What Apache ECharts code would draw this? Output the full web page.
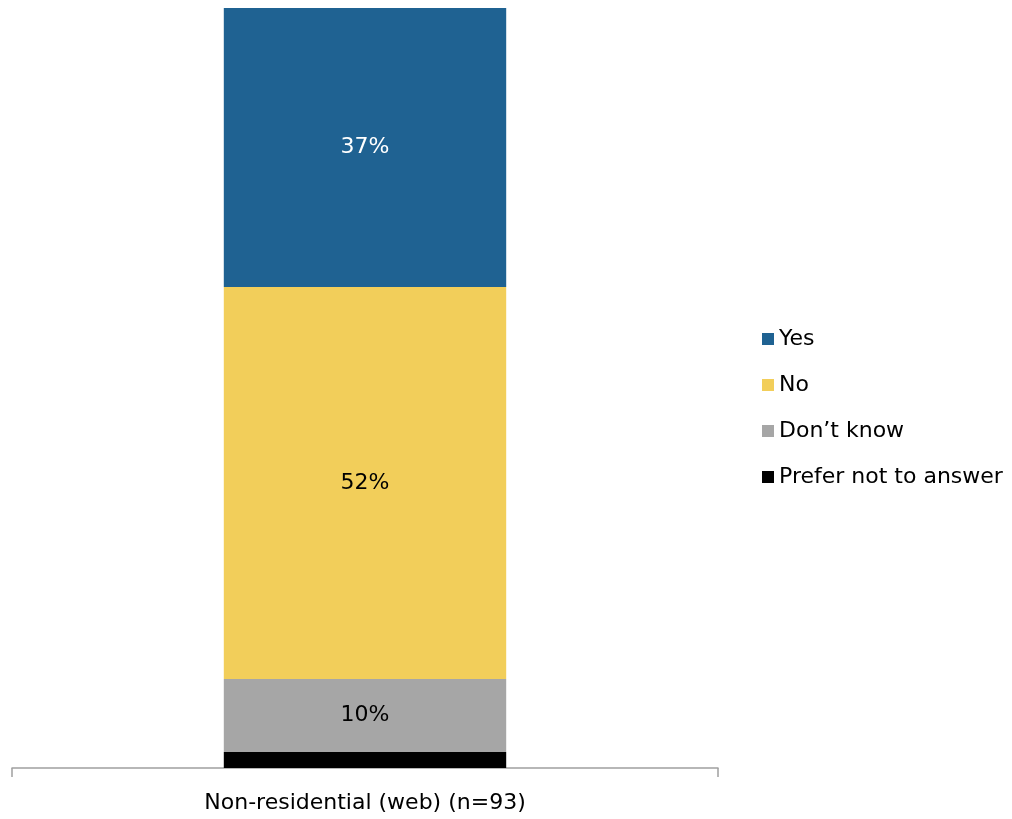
<!DOCTYPE html>
<html><head><meta charset="utf-8">
<script src="https://cdn.jsdelivr.net/npm/echarts@6/dist/echarts.min.js"></script>
<style>html,body{margin:0;padding:0;background:#fff}#c{width:1012px;height:819px}</style>
</head><body><div id="c"></div>
<script>
const categories = ['Non-residential (web) (n=93)'];
const seriesNames = ['Yes', 'No', 'Don\u2019t know', 'Prefer not to answer'];
const yesValues = [36.7];
const noValues = [51.6];
const dkValues = [9.6];
const pnaValues = [2.1];
const showLabel = [true, true, true, false];
const colors = ['#1f6292', '#f2ce5a', '#a6a6a6', '#000000'];
const labelColors = ['#ffffff', '#000000', '#000000', '#ffffff'];
const allValues = [yesValues, noValues, dkValues, pnaValues];
const FONT = 'DejaVu Sans, sans-serif';

// stack from bottom: Prefer not to answer, Don't know, No, Yes
const stackOrder = [3, 2, 1, 0];

const chart = echarts.init(document.getElementById('c'));
chart.setOption({
  animation: false,
  grid: { left: 12, right: 294, top: 8, bottom: 51 },
  legend: {
    orient: 'vertical', left: 757, top: 323,
    itemWidth: 12, itemHeight: 12, itemGap: 24,
    icon: 'rect',
    textStyle: { fontFamily: FONT, fontSize: 22, color: '#000' },
    data: seriesNames
  },
  xAxis: {
    type: 'category', data: categories,
    axisLine: { lineStyle: { color: '#a0a0a0', width: 1.5 } },
    axisTick: { show: true, length: 9, lineStyle: { color: '#a0a0a0', width: 1.5 } },
    axisLabel: { fontFamily: FONT, fontSize: 22, color: '#000', margin: 24 }
  },
  yAxis: { type: 'value', min: 0, max: 100, show: false, splitLine: { show: false } },
  series: stackOrder.map(i => ({
    name: seriesNames[i], type: 'bar', stack: 'total', barWidth: '40%',
    data: allValues[i],
    itemStyle: { color: colors[i] },
    label: {
      show: showLabel[i], position: 'inside',
      formatter: p => Math.round(p.value) + '%',
      fontFamily: FONT, fontSize: 22, color: labelColors[i]
    }
  }))
});
</script></body></html>
